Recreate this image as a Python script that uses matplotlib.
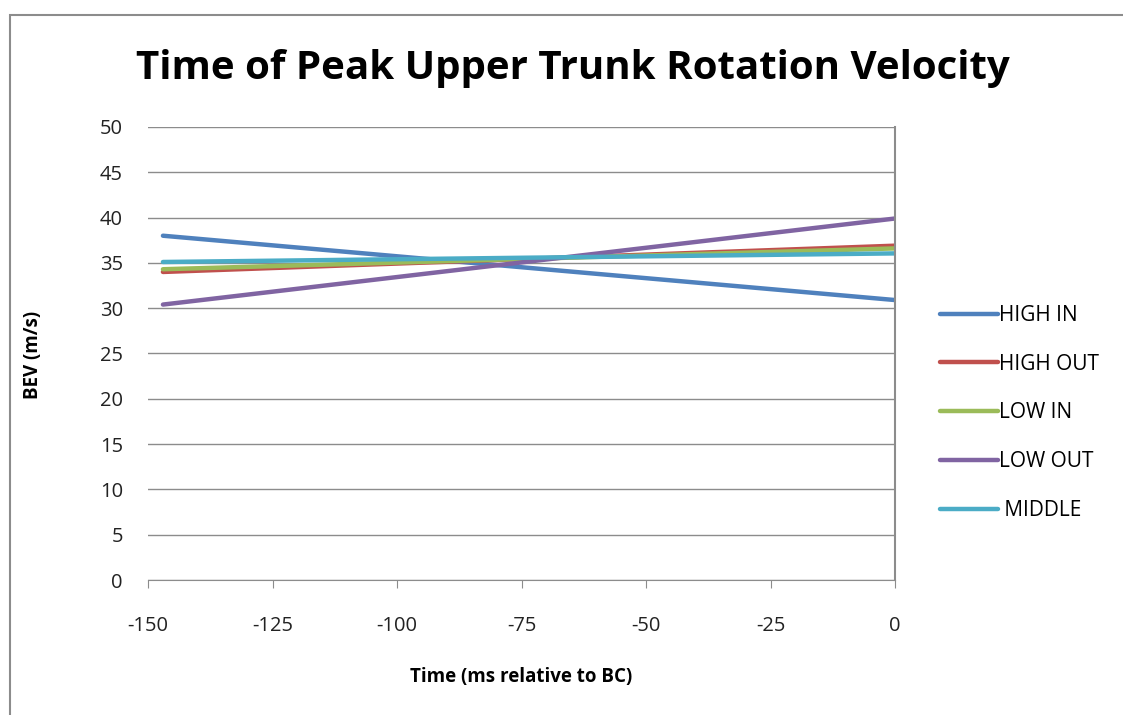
import matplotlib
matplotlib.use("Agg")
import matplotlib.pyplot as plt
from matplotlib.patches import Rectangle

plt.rcParams["font.family"] = ["Open Sans", "DejaVu Sans"]
plt.rcParams["axes.unicode_minus"] = False

# data (start and end of each line)
times = [-147, 0]
series_names = ["HIGH IN", "HIGH OUT", "LOW IN", "LOW OUT", " MIDDLE"]
high_in = [38.0, 30.9]
high_out = [34.0, 36.9]
low_in = [34.3, 36.6]
low_out = [30.4, 39.9]
middle = [35.1, 36.05]
colors = ["#4F81BD", "#C0504D", "#9BBB59", "#8064A2", "#4BACC6"]

W, H = 1123, 715
fig = plt.figure(figsize=(W / 100, H / 100), dpi=100)
ax = fig.add_axes([148 / W, 1 - 580 / H, (895 - 148) / W, (580 - 127) / H])

# outer chart frame (only left/top edges visible in the reference)
fig.patches.append(Rectangle((10 / W, -0.1), 1.2, 1 - 15 / H + 0.1,
                             transform=fig.transFigure, fill=False,
                             edgecolor="#8c8c8c", linewidth=1.5))

for vals, name, c in zip([high_in, high_out, low_in, low_out, middle],
                         series_names, colors):
    ax.plot(times, vals, color=c, linewidth=3.2, label=name,
            solid_capstyle="round")

ax.set_xlim(-150, 0)
ax.set_ylim(0, 50)
ax.set_xticks(range(-150, 1, 25))
ax.set_yticks(range(0, 51, 5))
ax.yaxis.grid(True, color="#8c8c8c", linewidth=1)
ax.set_axisbelow(True)
for s in ["top", "left"]:
    ax.spines[s].set_visible(False)
ax.spines["bottom"].set_color("#8c8c8c")
ax.spines["right"].set_color("#8c8c8c")
ax.spines["right"].set_linewidth(1.5)
ax.tick_params(axis="x", length=6, color="#8c8c8c", labelsize=14.5,
               pad=20, labelcolor="#222222")
ax.tick_params(axis="y", length=0, labelsize=14.5, pad=18,
               labelcolor="#222222")

fig.text(573 / W, 1 - 68 / H, "Time of Peak Upper Trunk Rotation Velocity",
         ha="center", va="center", fontsize=29, fontweight="bold")
fig.text(521 / W, 1 - 677 / H, "Time (ms relative to BC)", ha="center",
         va="center", fontsize=13.5, fontweight="bold")
fig.text(33 / W, 1 - 355 / H, "BEV (m/s)", ha="center", va="center",
         rotation=90, fontsize=13.5, fontweight="bold")

leg = ax.legend(loc="upper left", bbox_to_anchor=(940 / W, 1 - 305 / H),
                bbox_transform=fig.transFigure, frameon=False, fontsize=15,
                handlelength=2.8, handletextpad=0.05, labelspacing=1.33,
                borderaxespad=0, borderpad=0)

fig.savefig("out.png", dpi=100)
